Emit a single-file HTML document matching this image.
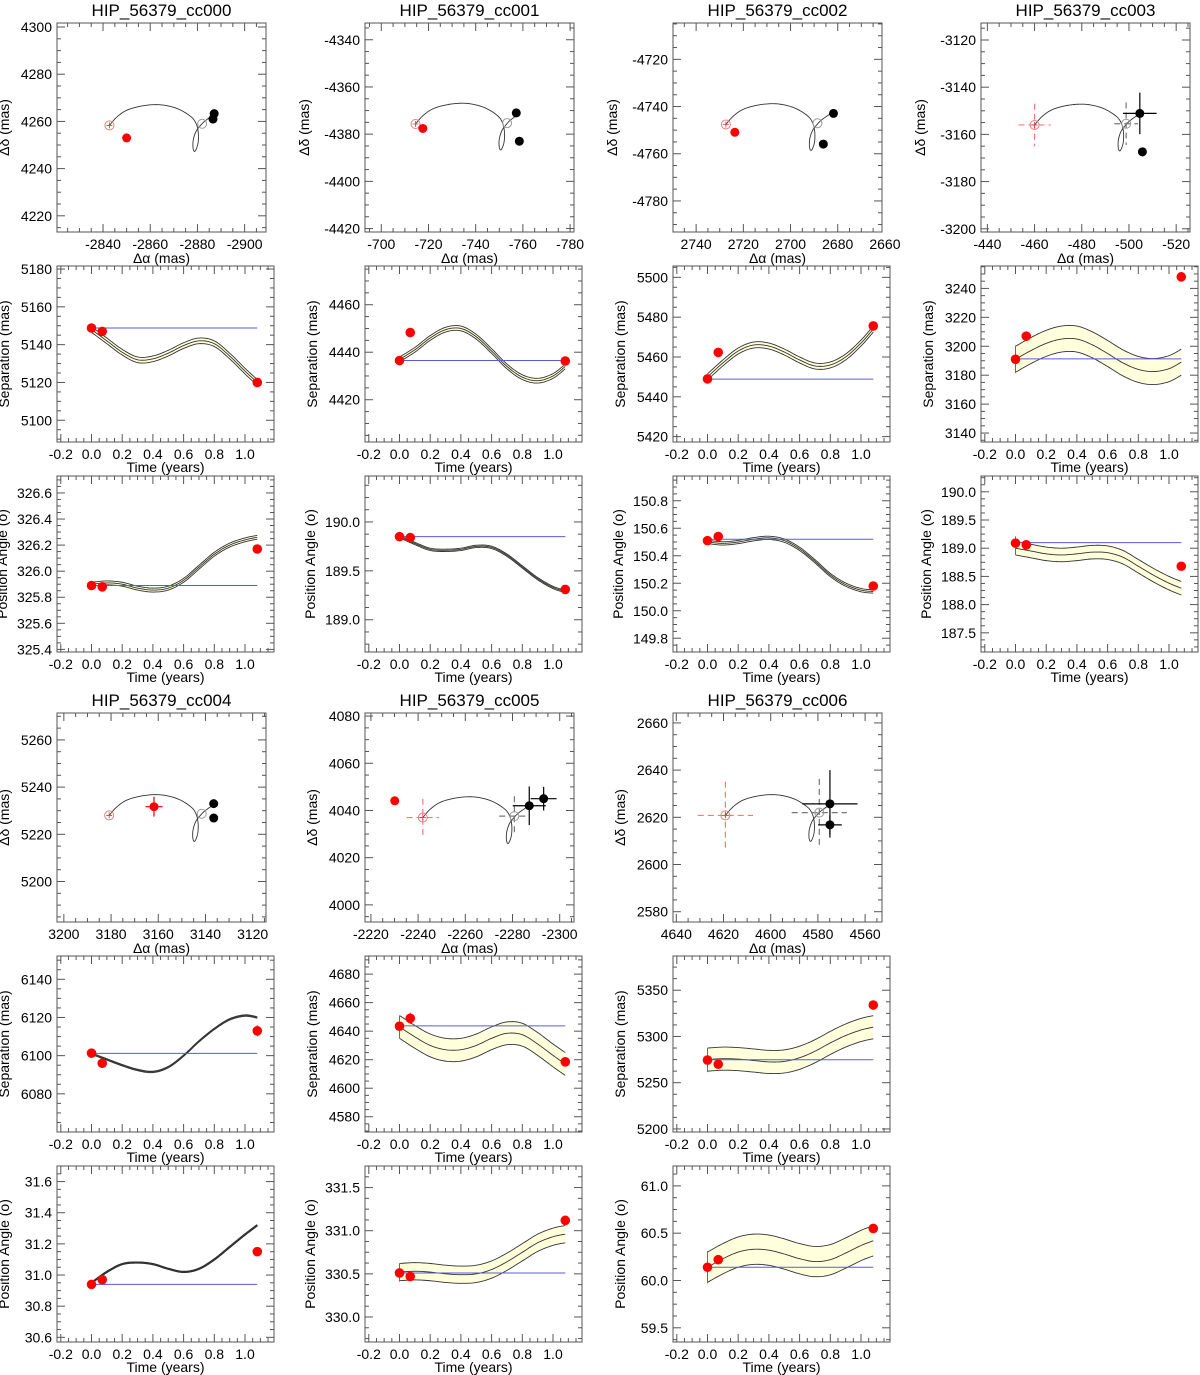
<!DOCTYPE html>
<html><head><meta charset="utf-8"><title>HIP_56379 astrometry</title>
<style>
html,body{margin:0;padding:0;background:#fff;}
svg{display:block;font-family:"Liberation Sans",Arial,sans-serif;}
</style></head>
<body>
<svg id="fig" width="1200" height="1375" viewBox="0 0 1200 1375" xmlns="http://www.w3.org/2000/svg"></svg>
<script>
// ---------------- DATA ----------------
const names = ['HIP_56379_cc000','HIP_56379_cc001','HIP_56379_cc002','HIP_56379_cc003','HIP_56379_cc004','HIP_56379_cc005','HIP_56379_cc006'];
// sky plots (mas)
const skyXLeft = [-2820.5,-693.1,2749.8,-437.3,3202.9,-2217.5,4641.4];
const skyYTop = [4301.7,-4332.9,-4704.6,-3112.8,5271.4,4081.3,2664.2];
const skyXTicks = [[-2840,-2860,-2880,-2900],[-700,-720,-740,-760,-780],[2740,2720,2700,2680,2660],[-440,-460,-480,-500,-520],[3200,3180,3160,3140,3120],[-2220,-2240,-2260,-2280,-2300],[4640,4620,4600,4580,4560]];
const skyYTicks = [[4220,4240,4260,4280,4300],[-4420,-4400,-4380,-4360,-4340],[-4780,-4760,-4740,-4720],[-3200,-3180,-3160,-3140,-3120],[5200,5220,5240,5260],[4000,4020,4040,4060,4080],[2580,2600,2620,2640,2660]];
const startX = [-2842.7,-714.5,2727.4,-460.0,3180.8,-2242.0,4619.2];
const startY = [4258.3,-4375.7,-4747.6,-3156.0,5228.0,4037.0,2620.8];
const startErr = [null,null,null,[6.8,9],null,[6.9,7.9],[11.7,14.3]];
const grayX = [-2882.0,-753.3,2688.6,-498.8,3141.6,-2280.8,4579.4];
const grayY = [4259.0,-4375.3,-4747.1,-3155.5,5228.7,4037.6,2622.0];
const grayErr = [null,null,null,[5,9],null,[6.4,8.4],[11.7,14.3]];
const redX = [-2850.0,-717.6,2723.6,null,3161.8,-2230.1,null];
const redY = [4253.0,-4377.6,-4750.9,null,5231.7,4044.1,null];
const redErr = [null,null,null,null,[3.6,4.2],null,null];
const blackX = [[-2887.1,-2886.6],[-757.2,-758.5],[2681.8,2686.1],[-504.6,-505.7],[3136.5,3136.5],[-2287.1,-2293.2],[4574.9,4574.9]];
const blackY = [[4263.3,4261.0],[-4371.0,-4383.0],[-4742.9,-4755.9],[-3151.1,-3167.4],[5233.0,5226.9],[4042.0,4045.0],[2625.7,2616.8]];
const blackErr = [[null,null],[null,null],[null,null],[[7.1,8.8],null],[null,null],[[7,8.2],[5.5,5]],[[11.7,14.3],[5,4]]];
// background-star track offsets relative to start (mas)
const trackDX = [0,-3.1,-7.3,-13.0,-19.0,-24.2,-29.8,-34.8,-36.9,-37.7,-37.5,-36.3,-35.5,-35.5,-36.6,-38.3,-40.4,-43.9];
const trackDY = [0,3.5,6.4,8.1,8.8,8.4,6.7,3.5,0.4,-3.5,-7.8,-10.9,-9.9,-6.4,-2.8,-0.4,1.8,4.3];

// time series
const modelT = [0,0.1,0.2,0.3,0.4,0.5,0.6,0.7,0.8,0.9,1.0,1.08];
const obsT = [0,0.07,1.08];
const timeTicks = [-0.2,0,0.2,0.4,0.6,0.8,1.0];
const timeTickLabels = ['-0.2','0.0','0.2','0.4','0.6','0.8','1.0'];

const sepModel = [
 [5148,5142,5136,5132,5132.5,5135.5,5139.5,5142,5140.5,5134,5126,5120],
 [4437,4441,4446,4449.5,4450,4446.5,4440.5,4434,4429.5,4428,4430,4434],
 [5450,5457,5463,5466,5465.5,5462.5,5458.5,5455.5,5456,5460,5467,5474],
 [3191,3197,3202,3205,3205,3201,3195,3188.5,3184,3182.5,3184.5,3189],
 [6101,6098,6095,6092.5,6091.5,6094,6100,6107.5,6114,6119,6121,6120],
 [4643,4636,4630,4627,4627,4630,4635,4638.5,4637.5,4631,4623,4617],
 [5275,5276,5275.5,5274,5272.5,5273,5277,5284,5293,5301,5307,5310]];
const sepBand = [1.5,1,1.5,9,0.4,8,12.5];
const sepObs = [[5148.8,5147,5120],[4436.5,4448.3,4436.3],[5449,5462.3,5475.6],[3191,3207,3248],[6101.3,6096,6113],[4643.5,4649,4618.5],[5274.5,5270,5334]];
const sepObsErr = [[0,0,0],[0,0,0],[0,0,0],[9.5,0,0],[0,0,3],[6,4,0],[13,0,0]];
const sepRef = [5148.8,4436.5,5448.9,3191.3,6101.2,4643.7,5274.8];
const sepMin = [5088.5,4402.2,5417.3,3133.8,6060.0,4569.3,5196.7];
const sepMax = [5181.6,4476.3,5505.7,3255.5,6152.2,4692.7,5387.0];
const sepTicks = [[5100,5120,5140,5160,5180],[4420,4440,4460],[5420,5440,5460,5480,5500],[3140,3160,3180,3200,3220,3240],[6080,6100,6120,6140],[4580,4600,4620,4640,4660,4680],[5200,5250,5300,5350]];

const paModel = [
 [325.90,325.91,325.90,325.87,325.855,325.87,325.93,326.03,326.13,326.20,326.24,326.26],
 [189.85,189.78,189.72,189.71,189.72,189.75,189.74,189.66,189.54,189.42,189.33,189.29],
 [150.50,150.49,150.50,150.52,150.53,150.51,150.45,150.36,150.26,150.19,150.15,150.14],
 [189.0,188.95,188.90,188.88,188.90,188.93,188.92,188.84,188.68,188.52,188.38,188.29],
 [30.95,31.02,31.07,31.08,31.07,31.04,31.02,31.04,31.10,31.18,31.26,31.32],
 [330.52,330.53,330.52,330.50,330.49,330.50,330.55,330.64,330.75,330.86,330.93,330.96],
 [60.14,60.23,60.30,60.33,60.32,60.28,60.23,60.20,60.22,60.29,60.37,60.42]];
const paBand = [0.015,0.012,0.012,0.12,0.003,0.1,0.16];
const paObs = [[325.89,325.88,326.17],[189.85,189.84,189.31],[150.51,150.54,150.18],[189.09,189.06,188.68],[30.94,30.97,31.15],[330.51,330.47,331.12],[60.14,60.22,60.55]];
const paObsErr = [[0,0,0],[0,0,0],[0,0,0],[0.12,0,0],[0,0,0.03],[0.1,0,0],[0.17,0,0]];
const paRef = [325.89,189.85,150.52,189.10,30.94,330.51,60.14];
const paMin = [325.38,188.67,149.70,187.16,30.57,329.71,59.35];
const paMax = [326.73,190.47,150.98,190.28,31.70,331.75,61.21];
const paTicks = [[325.4,325.6,325.8,326.0,326.2,326.4,326.6],[189.0,189.5,190.0],[149.8,150.0,150.2,150.4,150.6,150.8],[187.5,188.0,188.5,189.0,189.5,190.0],[30.6,30.8,31.0,31.2,31.4,31.6],[330.0,330.5,331.0,331.5],[59.5,60.0,60.5,61.0]];

// ---------------- DRAWING ----------------
const NS='http://www.w3.org/2000/svg';
const svg=document.getElementById('fig');
function el(tag,attrs,parent){const e=document.createElementNS(NS,tag);for(const k in attrs)e.setAttribute(k,attrs[k]);(parent||svg).appendChild(e);return e;}
function txt(s,x,y,size,anchor,parent,rot){const t=el('text',{x:x,y:y,'font-size':size,'text-anchor':anchor||'middle',fill:'#000'},parent);if(rot)t.setAttribute('transform','rotate(-90 '+x+' '+y+')');t.textContent=s;return t;}
function fmt(v,d){return v.toFixed(d);}
function spline(px,py,n){const X=[],Y=[];const m=px.length;for(let i=0;i<m-1;i++){const i0=Math.max(0,i-1),i3=Math.min(m-1,i+2);for(let k=0;k<n;k++){const s=k/n,s2=s*s,s3=s2*s;const f=(a,b,c,d)=>0.5*((2*b)+(-a+c)*s+(2*a-5*b+4*c-d)*s2+(-a+3*b-3*c+d)*s3);X.push(f(px[i0],px[i],px[i+1],px[i3]));Y.push(f(py[i0],py[i],py[i+1],py[i3]));}}X.push(px[m-1]);Y.push(py[m-1]);return [X,Y];}
function pathD(X,Y){return X.map((x,i)=>(i?'L':'M')+x.toFixed(2)+','+Y[i].toFixed(2)).join('');}

const FRAME='#555';
function frameTicks(g,x0,y0,w,h,xpos,ypos,xminor,yminor){
  el('rect',{x:x0,y:y0,width:w,height:h,fill:'none',stroke:FRAME,'stroke-width':1},g);
  xpos.forEach(x=>{el('line',{x1:x,y1:y0+h,x2:x,y2:y0+h-8,stroke:FRAME},g);el('line',{x1:x,y1:y0,x2:x,y2:y0+8,stroke:FRAME},g);});
  xminor.forEach(x=>{el('line',{x1:x,y1:y0+h,x2:x,y2:y0+h-4,stroke:FRAME},g);el('line',{x1:x,y1:y0,x2:x,y2:y0+4,stroke:FRAME},g);});
  ypos.forEach(y=>{el('line',{x1:x0,y1:y,x2:x0+8,y2:y,stroke:FRAME},g);el('line',{x1:x0+w,y1:y,x2:x0+w-8,y2:y,stroke:FRAME},g);});
  yminor.forEach(y=>{el('line',{x1:x0,y1:y,x2:x0+4,y2:y,stroke:FRAME},g);el('line',{x1:x0+w,y1:y,x2:x0+w-4,y2:y,stroke:FRAME},g);});
}
function errBar(g,cx,cy,ex,ey,color,dash){const a={stroke:color,'stroke-width':1.2};if(dash)a['stroke-dasharray']='6,4';
  if(ex){el('line',Object.assign({x1:cx-ex,y1:cy,x2:cx+ex,y2:cy},a),g);}
  if(ey){el('line',Object.assign({x1:cx,y1:cy-ey,x2:cx,y2:cy+ey},a),g);}}

const PXM=2.36; // px per mas on sky plots
for(let i=0;i<7;i++){
  const col=i%4, half=i<4?0:1;
  const X0=57+308*col, Yoff=690*half;
  // ---------- sky panel ----------
  const g=el('g',{});
  
  
  const sx0=X0, sy0=23+Yoff, sw=209, sh=209;
  const xl=skyXLeft[i], yt=skyYTop[i];
  const SX=v=>sx0+(xl-v)*PXM, SY=v=>sy0+(yt-v)*PXM;
  const t=txt(names[i],sx0+sw/2,sy0-7,17,'middle',g);
  
  
  const xp=skyXTicks[i].filter(v=>SX(v)>=sx0-0.5&&SX(v)<=sx0+sw+0.5).map(SX);
  const yp=skyYTicks[i].map(SY);
  const xm=[],ym=[];
  for(let v=Math.ceil((xl-sw/PXM)/5)*5;v<=xl;v+=5){if(v%20!==0)xm.push(SX(v));}
  for(let v=Math.ceil((yt-sh/PXM)/5)*5;v<=yt;v+=5){if(v%20!==0)ym.push(SY(v));}
  frameTicks(g,sx0,sy0,sw,sh,xp,yp,xm,ym);
  skyXTicks[i].forEach(v=>{const l=txt(String(v),SX(v),sy0+sh+17,14,'middle',g);});
  let maxLen=0;
  skyYTicks[i].forEach(v=>{const s=String(v);maxLen=Math.max(maxLen,s.length);const l=txt(s,sx0-5,SY(v)+5,14,'end',g);});
  const xa=txt('\u0394\u03b1 (mas)',sx0+sw/2,sy0+sh+31,14,'middle',g);
  
  
  const ya=txt('\u0394\u03b4 (mas)',sx0-maxLen*8-16,sy0+sh/2,14,'middle',g,true);
  
  
  const cp=el('clipPath',{id:'clip'+i},g);el('rect',{x:sx0,y:sy0,width:sw,height:sh},cp);
  const pg=el('g',{'clip-path':'url(#clip'+i+')'},g);
  const [TX,TY]=spline(trackDX.map(d=>SX(startX[i]+d)),trackDY.map(d=>SY(startY[i]+d)),8);
  const tr=el('path',{d:pathD(TX,TY),fill:'none',stroke:'#333','stroke-width':0.9},pg);
  
  
  const scx=SX(startX[i]),scy=SY(startY[i]);
  if(startErr[i]) errBar(pg,scx,scy,startErr[i][0]*PXM,startErr[i][1]*PXM,'#f47a7a',true);
  const sc=el('circle',{cx:scx,cy:scy,r:4.5,fill:'none',stroke:'#f07f7f','stroke-width':1},pg);
  
  
  el('path',{d:'M'+(scx-3)+','+scy+'h6M'+scx+','+(scy-3)+'v6',stroke:'#d04040','stroke-width':0.8},pg);
  const gcx=SX(grayX[i]),gcy=SY(grayY[i]);
  if(grayErr[i]) errBar(pg,gcx,gcy,grayErr[i][0]*PXM,grayErr[i][1]*PXM,'#777',true);
  const gc=el('circle',{cx:gcx,cy:gcy,r:4.5,fill:'none',stroke:'#999','stroke-width':1},pg);
  
  
  if(redX[i]!==null){const rx=SX(redX[i]),ry=SY(redY[i]);
    if(redErr[i]) errBar(pg,rx,ry,redErr[i][0]*PXM,redErr[i][1]*PXM,'#e00',false);
    const rc=el('circle',{cx:rx,cy:ry,r:4.5,fill:'#f00'},pg);
    
    }
  for(let k=0;k<blackX[i].length;k++){const bx=SX(blackX[i][k]),by=SY(blackY[i][k]);
    if(blackErr[i][k]) errBar(pg,bx,by,blackErr[i][k][0]*PXM,blackErr[i][k][1]*PXM,'#000',false);
    const bc=el('circle',{cx:bx,cy:by,r:4.5,fill:'#000'},pg);
    
    }

  // ---------- time panels ----------
  const specs=[
    {kind:'sep',y0:266+Yoff,model:sepModel[i],band:sepBand[i],obs:sepObs[i],err:sepObsErr[i],ref:sepRef[i],ymin:sepMin[i],ymax:sepMax[i],ticks:sepTicks[i],dec:0,label:'Separation (mas)'},
    {kind:'pa',y0:476+Yoff,model:paModel[i],band:paBand[i],obs:paObs[i],err:paObsErr[i],ref:paRef[i],ymin:paMin[i],ymax:paMax[i],ticks:paTicks[i],dec:1,label:'Position Angle (o)'}];
  specs.forEach(sp=>{
    const tg=el('g',{});
    
    
    const x0=X0,y0=sp.y0,w=217,h=176;
    const TXf=v=>x0+3.8+(v+0.2)*153.5, TYf=v=>y0+h-(v-sp.ymin)/(sp.ymax-sp.ymin)*h;
    const xp=timeTicks.map(TXf), yp=sp.ticks.map(TYf);
    const xm=[],ym=[];
    for(let k=-4;k<=23;k++){const v=k*0.05;if(k%4!==0&&TXf(v)>x0&&TXf(v)<x0+w)xm.push(TXf(v));}
    const st=sp.ticks[1]-sp.ticks[0];
    for(let v=sp.ticks[0]-st;v<=sp.ymax;v+=st/4){if(v>=sp.ymin&&Math.abs((v-sp.ticks[0])/st-Math.round((v-sp.ticks[0])/st))>0.01)ym.push(TYf(v));}
    frameTicks(tg,x0,y0,w,h,xp,yp,xm,ym);
    timeTicks.forEach((v,k)=>{const l=txt(timeTickLabels[k],TXf(v),y0+h+17,14,'middle',tg);});
    let ml=0;
    sp.ticks.forEach(v=>{const s=fmt(v,sp.dec);ml=Math.max(ml,s.length);const l=txt(s,x0-5,TYf(v)+5,14,'end',tg);});
    const xt=txt('Time (years)',x0+w/2,y0+h+30,14,'middle',tg);
    
    
    const yt2=txt(sp.label,Math.max(x0-ml*8.2-15,x0-50),y0+h/2,14,'middle',tg,true);
    
    
    const cpp=el('clipPath',{id:'c'+sp.kind+i},tg);el('rect',{x:x0,y:y0,width:w,height:h},cpp);
    const pg2=el('g',{'clip-path':'url(#c'+sp.kind+i+')'},tg);
    const [MX,MY]=spline(modelT.map(TXf),sp.model.map(TYf),10);
    const [UX,UY]=spline(modelT.map(TXf),sp.model.map(v=>TYf(v+sp.band)),10);
    const [LX,LY]=spline(modelT.map(TXf),sp.model.map(v=>TYf(v-sp.band)),10);
    const bpx=sp.band*2/(sp.ymax-sp.ymin)*h;
    const thick=bpx<1.2;
    if(!thick){
      const fd=pathD(UX,UY)+pathD(LX.slice().reverse(),LY.slice().reverse()).replace(/^M/,'L')+'Z';
      const bd=el('path',{d:fd,fill:'#ffffdc',stroke:'none'},pg2);
      
      
      el('path',{d:pathD(UX,UY),fill:'none',stroke:'#333','stroke-width':0.9},pg2);
      el('path',{d:pathD(LX,LY),fill:'none',stroke:'#333','stroke-width':0.9},pg2);
    } else {
      const bd=el('path',{d:pathD(MX,MY),fill:'none',stroke:'#222','stroke-width':2.2},pg2);
      
      
    }
    if(sp.err[0]&&!thick){el('line',{x1:TXf(0),y1:TYf(sp.model[0]+sp.band),x2:TXf(0),y2:TYf(sp.model[0]-sp.band),stroke:'#e33','stroke-width':1},pg2);}
    const ml2=el('path',{d:pathD(MX,MY),fill:'none',stroke:'#333','stroke-width':thick?1.6:0.9},pg2);
    
    
    const rl=el('line',{x1:TXf(0),y1:TYf(sp.ref),x2:TXf(1.08),y2:TYf(sp.ref),stroke:'#5a5ae0','stroke-width':1},pg2);
    
    
    obsT.forEach((tv,k)=>{const cx=TXf(tv),cy=TYf(sp.obs[k]);
      if(sp.err[k]){const e=sp.err[k]/(sp.ymax-sp.ymin)*h;el('line',{x1:cx,y1:cy-e,x2:cx,y2:cy+e,stroke:'#e33','stroke-width':1},pg2);}
      const c=el('circle',{cx:cx,cy:cy,r:4.8,fill:'#f00'},pg2);
      
      });
  });
}
</script>
</body></html>
